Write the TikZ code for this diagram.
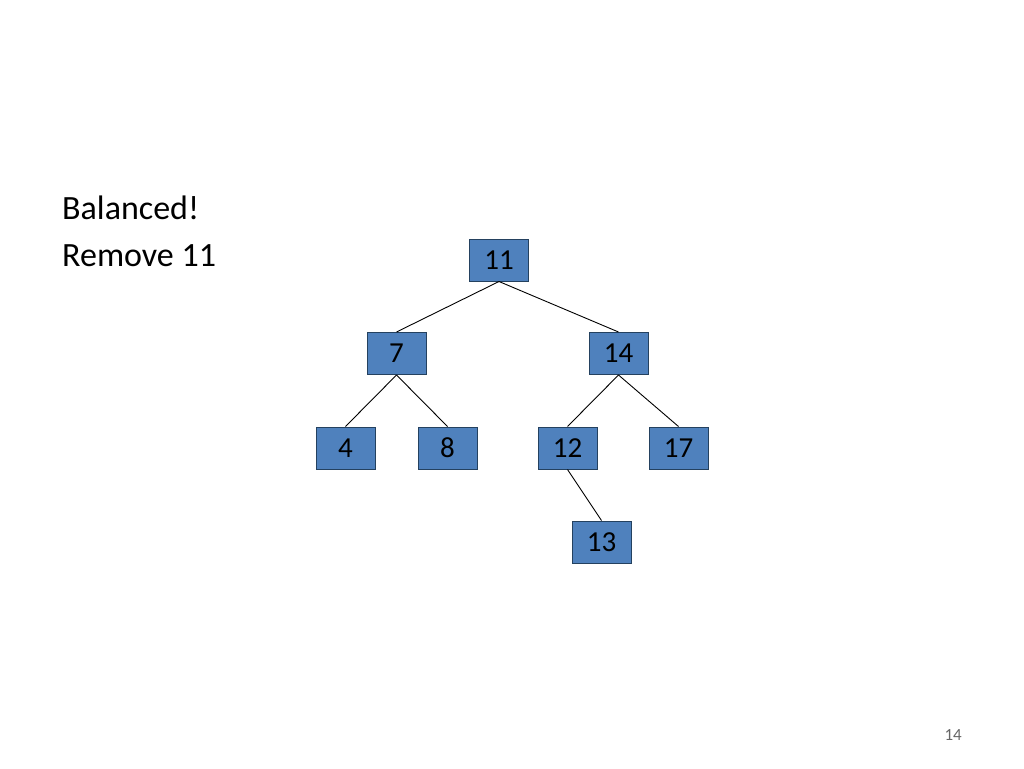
\documentclass[tikz,border=0pt]{standalone}
\usepackage{fontspec}
\setmainfont{Carlito}
\usepackage{tikz}
\usetikzlibrary{positioning}
\definecolor{boxblue}{HTML}{4F81BD}
\definecolor{boxline}{HTML}{24415F}

\begin{document}
\begin{tikzpicture}[x=1pt, y=-1pt,
    treebox/.style={rectangle, draw=boxline, line width=1pt, fill=boxblue, minimum width=59pt, minimum height=42pt, inner sep=0pt, font=\fontsize{29}{34}\selectfont},
    slidetext/.style={anchor=base west, inner sep=0pt, font=\fontsize{34}{40}\selectfont},
    edge/.style={line width=0.9pt}
]
    \useasboundingbox (0,0) rectangle (1024,768);

    % Text
    \node[slidetext] (bal) at (62,219) {Balanced!};
    \node[slidetext] (rem) at (62,266) {Remove 11};

    % Tree
    \node[treebox] (n11) at (499,260) {11};
    \node[treebox] (n7) at (396.5,353.5) {7};
    \node[treebox] (n14) at (618.5,353.5) {14};
    \node[treebox] (n4) at (345.5,448) {4};
    \node[treebox] (n8) at (447.5,448) {8};
    \node[treebox] (n12) at (567.5,448) {12};
    \node[treebox] (n17) at (678.5,448) {17};
    \node[treebox] (n13) at (601.5,542) {13};

    \draw[edge] (n11.south) -- (n7.north);
    \draw[edge] (n11.south) -- (n14.north);
    \draw[edge] (n7.south) -- (n4.north);
    \draw[edge] (n7.south) -- (n8.north);
    \draw[edge] (n14.south) -- (n12.north);
    \draw[edge] (n14.south) -- (n17.north);
    \draw[edge] (n12.south) -- (n13.north);

    % Page number
    \node[anchor=base east, inner sep=0pt, text=gray!80!black, font=\fontsize{17}{20}\selectfont] (page) at (962,740) {14};
\end{tikzpicture}
\end{document}
